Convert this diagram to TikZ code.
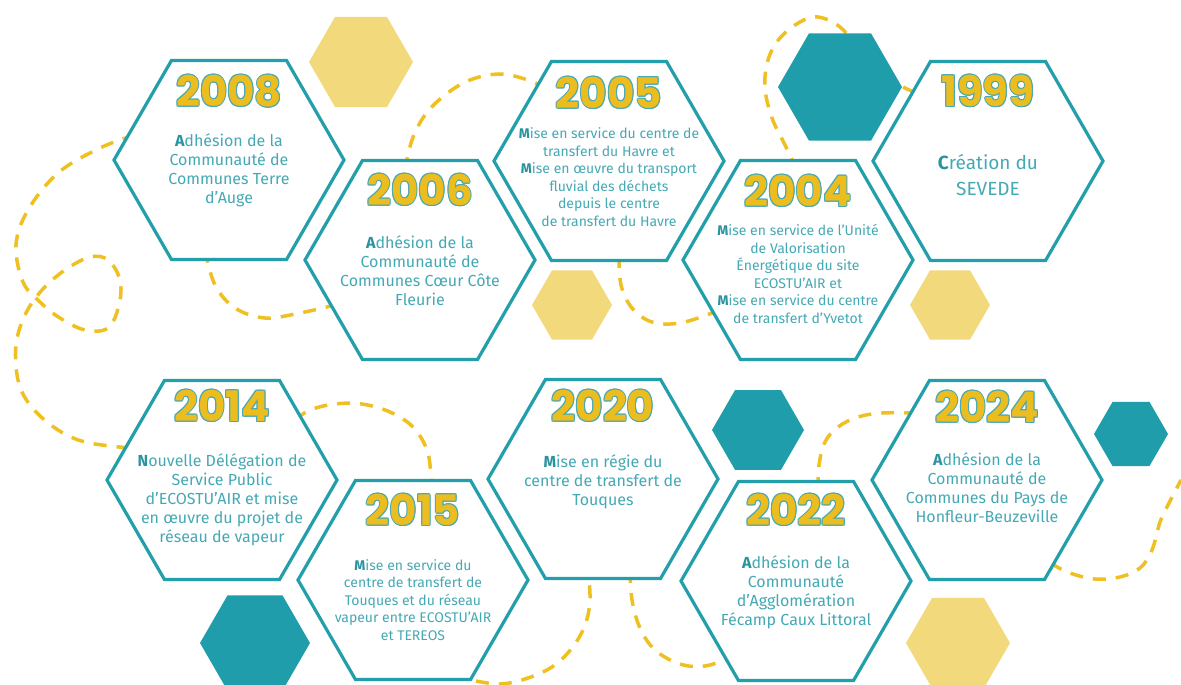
\documentclass[tikz,border=0pt]{standalone}
\usepackage{fontspec}
\setmainfont{Fira Sans}
\newfontfamily\yearfont{Poppins}
\usetikzlibrary{shapes.geometric}

\definecolor{hexline}{HTML}{229FAB}
\definecolor{hexfill}{HTML}{209DAA}
\definecolor{notetext}{HTML}{45A9B5}
\definecolor{notelead}{HTML}{2A93A0}
\definecolor{sandfill}{HTML}{F2D97B}
\definecolor{trail}{HTML}{EFC021}
\definecolor{yearfill}{HTML}{EBBD1F}
\definecolor{yearline}{HTML}{4AA9B2}

% first letter of each note
\newcommand\initl[1]{{\bfseries\color{notelead}#1}}
% yellow year with a thin teal rim
\newcommand\yearmark[1]{%
  \leavevmode
  \rlap{\color{yearline}\hspace*{-1pt}#1}%
  \rlap{\color{yearline}\hspace*{1pt}#1}%
  \rlap{\color{yearline}\raisebox{1pt}{#1}}%
  \rlap{\color{yearline}\raisebox{-1pt}{#1}}%
  \rlap{\color{yearline}\hspace*{-0.7pt}\raisebox{0.7pt}{#1}}%
  \rlap{\color{yearline}\hspace*{0.7pt}\raisebox{0.7pt}{#1}}%
  \rlap{\color{yearline}\hspace*{-0.7pt}\raisebox{-0.7pt}{#1}}%
  \rlap{\color{yearline}\hspace*{0.7pt}\raisebox{-0.7pt}{#1}}%
  {\color{yearfill}#1}}

\tikzset{
  hexbox/.style={regular polygon, regular polygon sides=6, minimum size=230pt,
    inner sep=0pt, draw=hexline, line width=3.2pt, fill=white},
  tealhex/.style={regular polygon, regular polygon sides=6, inner sep=0pt, fill=hexfill},
  sandhex/.style={regular polygon, regular polygon sides=6, inner sep=0pt, fill=sandfill},
  yearlabel/.style={font=\yearfont\bfseries\fontsize{42}{42}\selectfont, inner sep=0pt},
  eventtext/.style={align=center, text=notetext, inner sep=0pt,
    font=\fontsize{16}{19}\selectfont},
  smalltext/.style={eventtext, font=\fontsize{14}{17.5}\selectfont},
  bigtext/.style={eventtext, font=\fontsize{19}{26}\selectfont},
  trailline/.style={draw=trail, line width=3.5pt, dash pattern=on 13pt off 10pt}
}

\begin{document}
\begin{tikzpicture}[x=1pt,y=-1pt]
  \useasboundingbox (0,0) rectangle (1181,685);
  \clip (0,0) rectangle (1181,685);

  % dashed trails behind the cells
  \draw[trailline] plot[smooth, tension=0.6] coordinates {(135,135) (100,148) (58,173) (28,210) (16,245) (23,282) (40,302) (60,318) (85,330) (108,328) (119,305) (120,280) (108,260) (90,257) (65,270) (42,290) (25,315) (16,345) (18,380) (30,405) (55,428) (85,442) (130,448)};
  \draw[trailline] plot[smooth, tension=0.6] coordinates {(205,250) (215,285) (235,308) (265,318) (300,313) (335,305)};
  \draw[trailline] plot[smooth, tension=0.6] coordinates {(405,170) (412,140) (425,115) (445,95) (470,80) (500,74) (528,80) (545,88)};
  \draw[trailline] plot[smooth, tension=0.6] coordinates {(619,255) (621,285) (632,308) (652,322) (680,323) (715,312) (725,308)};
  \draw[trailline] plot[smooth, tension=0.6] coordinates {(797,170) (785,145) (772,118) (765,88) (768,60) (780,38) (800,22) (818,17) (840,27) (860,50) (885,75) (905,88) (920,94)};
  \draw[trailline] plot[smooth, tension=0.6] coordinates {(295,420) (310,410) (335,404) (362,404) (390,412) (413,427) (427,450) (431,475) (432,490)};
  \draw[trailline] plot[smooth, tension=0.6] coordinates {(476,681) (500,684) (525,679) (552,667) (572,648) (585,625) (590,600) (588,570)};
  \draw[trailline] plot[smooth, tension=0.6] coordinates {(630,570) (632,600) (640,628) (655,650) (680,664) (705,666) (733,657)};
  \draw[trailline] plot[smooth, tension=0.6] coordinates {(818,490) (819,465) (825,442) (838,427) (858,417) (882,413) (915,413)};
  \draw[trailline] plot[smooth, tension=0.6] coordinates {(1050,563) (1070,573) (1095,579) (1120,577) (1140,568) (1152,550) (1160,522) (1168,505) (1181,480)};

  % plain cells
  \node[sandhex, minimum size=104pt] (sand1) at (361,62) {};
  \node[tealhex, minimum size=124pt] (teal1) at (840,87) {};
  \node[sandhex, minimum size=80pt]  (sand2) at (572,305) {};
  \node[sandhex, minimum size=80pt]  (sand3) at (950,305) {};
  \node[tealhex, minimum size=92pt]  (teal2) at (758,430) {};
  \node[tealhex, minimum size=74pt]  (teal3) at (1131,434) {};
  \node[tealhex, minimum size=110pt] (teal4) at (255,643) {};
  \node[sandhex, minimum size=104pt] (sand4) at (958,643) {};

  % top rows
  \node[hexbox] (h2008) at (229,160) {};
  \node[yearlabel] (y2008) at (229,91) {\yearmark{2008}};
  \node[eventtext] (t2008) at (229,170) {\initl{A}dhésion de la\\Communauté de\\Communes Terre\\d’Auge};

  \node[hexbox] (h2006) at (420,260) {};
  \node[yearlabel] (y2006) at (420,190) {\yearmark{2006}};
  \node[eventtext] (t2006) at (420,271) {\initl{A}dhésion de la\\Communauté de\\Communes Cœur Côte\\Fleurie};

  \node[hexbox] (h2005) at (609,161) {};
  \node[yearlabel] (y2005) at (609,93) {\yearmark{2005}};
  \node[smalltext] (t2005) at (609,177) {\initl{M}ise en service du centre de\\transfert du Havre et\\\initl{M}ise en œuvre du transport\\fluvial des déchets\\depuis le centre\\de transfert du Havre};

  \node[hexbox] (h2004) at (798,260) {};
  \node[yearlabel] (y2004) at (798,191) {\yearmark{2004}};
  \node[smalltext] (t2004) at (798,274) {\initl{M}ise en service de l’Unité\\de Valorisation\\Énergétique du site\\ECOSTU’AIR et\\\initl{M}ise en service du centre\\de transfert d’Yvetot};

  \node[hexbox] (h1999) at (988,161) {};
  \node[yearlabel] (y1999) at (988,91) {\yearmark{1999}};
  \node[bigtext] (t1999) at (988,175) {\initl{C}réation du\\SEVEDE};

  % bottom rows
  \node[hexbox] (h2014) at (222,480) {};
  \node[yearlabel] (y2014) at (222,406) {\yearmark{2014}};
  \node[eventtext] (t2014) at (222,500) {\initl{N}ouvelle Délégation de\\Service Public\\d’ECOSTU’AIR et mise\\en œuvre du projet de\\réseau de vapeur};

  \node[hexbox] (h2015) at (413,580) {};
  \node[yearlabel] (y2015) at (413,510) {\yearmark{2015}};
  \node[smalltext] (t2015) at (413,600) {\initl{M}ise en service du\\centre de transfert de\\Touques et du réseau\\vapeur entre ECOSTU’AIR\\et TEREOS};

  \node[hexbox] (h2020) at (603,479) {};
  \node[yearlabel] (y2020) at (603,406) {\yearmark{2020}};
  \node[eventtext] (t2020) at (603,482) {\initl{M}ise en régie du\\centre de transfert de\\Touques};

  \node[hexbox] (h2022) at (796,581) {};
  \node[yearlabel] (y2022) at (796,510) {\yearmark{2022}};
  \node[eventtext] (t2022) at (796,592) {\initl{A}dhésion de la\\Communauté\\d’Agglomération\\Fécamp Caux Littoral};

  \node[hexbox] (h2024) at (987,480) {};
  \node[yearlabel] (y2024) at (987,407) {\yearmark{2024}};
  \node[eventtext] (t2024) at (987,488) {\initl{A}dhésion de la\\Communauté de\\Communes du Pays de\\Honfleur-Beuzeville};
\end{tikzpicture}
\end{document}
